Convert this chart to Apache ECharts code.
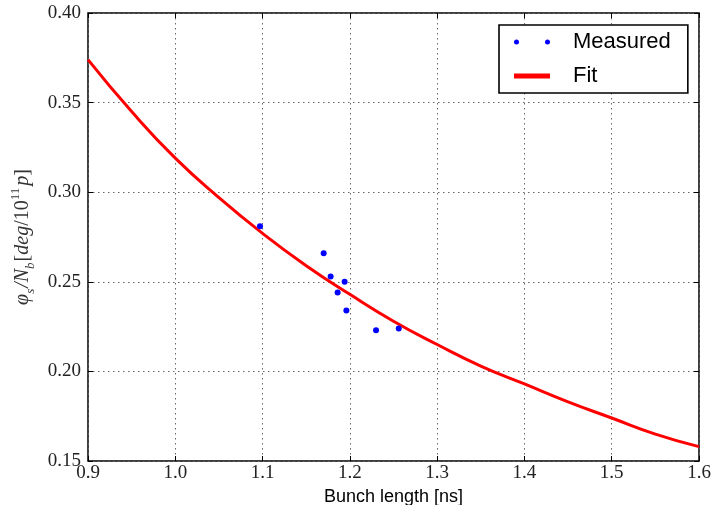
<!DOCTYPE html>
<html><head><meta charset="utf-8">
<script src="https://cdn.jsdelivr.net/npm/echarts@6/dist/echarts.min.js"></script>
<style>html,body{margin:0;padding:0;background:#fff}#c{width:711px;height:505px}</style>
</head><body><div id="c"></div>
<script>
// Measured data points
const measuredX = [1.097, 1.170, 1.178, 1.194, 1.186, 1.196, 1.230, 1.256];
const measuredY = [0.281, 0.266, 0.253, 0.250, 0.244, 0.234, 0.223, 0.224];
// Fit curve
const fitX = [0.90, 0.95, 1.00, 1.05, 1.10, 1.15, 1.20, 1.25, 1.30, 1.35, 1.40, 1.45, 1.50, 1.55, 1.60];
const fitY = [0.374, 0.345, 0.319, 0.297, 0.277, 0.259, 0.243, 0.228, 0.215, 0.203, 0.193, 0.183, 0.174, 0.165, 0.158];
const xTicks = [0.9, 1.0, 1.1, 1.2, 1.3, 1.4, 1.5, 1.6];
const yTicks = [0.15, 0.20, 0.25, 0.30, 0.35, 0.40];
const seriesNames = ['Measured', 'Fit'];
const xTitle = 'Bunch length [ns]';

const serif = 'Liberation Serif';
const sans = 'Liberation Sans';
const chart = echarts.init(document.getElementById('c'), null, {renderer: 'canvas'});
const grid = {left: 88, right: 12, top: 13, bottom: 44, outerBoundsMode: 'none', containLabel: false, show: true, borderColor: '#000', borderWidth: 1.5, backgroundColor: 'transparent'};
const tickStyle = {show: true, inside: true, length: 5, lineStyle: {color: '#000', width: 1}};
const splitStyle = {show: true, lineStyle: {color: '#666', type: [1.5, 3.5], width: 1}};
const labelStyle = {fontFamily: serif, fontSize: 19, color: '#222'};

chart.setOption({
  animation: false,
  grid: grid,
  legend: {
    left: 499, top: 25, orient: 'vertical',
    padding: [4, 17, 4, 15], itemGap: 8,
    itemWidth: 36, itemHeight: 5,
    borderColor: '#000', borderWidth: 1.6, backgroundColor: '#fff',
    textStyle: {fontFamily: sans, fontSize: 22, color: '#000', lineHeight: 26, padding: [0, 0, 0, 18]},
    data: [
      {name: seriesNames[0], icon: 'path://M0,2.5a2.5,2.5 0 1,0 5,0a2.5,2.5 0 1,0 -5,0M31,2.5a2.5,2.5 0 1,0 5,0a2.5,2.5 0 1,0 -5,0', itemStyle: {color: '#0000ff', opacity: 1}},
      {name: seriesNames[1], icon: 'rect', itemStyle: {color: '#ff0000'}}
    ]
  },
  xAxis: [{
    type: 'value', min: xTicks[0], max: xTicks[xTicks.length - 1], interval: 0.1,
    axisLine: {show: false}, axisTick: tickStyle, splitLine: splitStyle,
    axisLabel: Object.assign({margin: 3, formatter: v => v.toFixed(1), hideOverlap: false}, labelStyle),
    name: xTitle, nameLocation: 'middle', nameGap: 24,
    nameTextStyle: {fontFamily: sans, fontSize: 18, color: '#000'}
  }, {
    type: 'value', position: 'top', min: xTicks[0], max: xTicks[xTicks.length - 1], interval: 0.1,
    axisLine: {show: false}, axisTick: tickStyle, splitLine: {show: false}, axisLabel: {show: false}
  }],
  yAxis: [{
    type: 'value', min: yTicks[0], max: yTicks[yTicks.length - 1], interval: 0.05,
    axisLine: {show: false}, axisTick: tickStyle, splitLine: splitStyle,
    axisLabel: Object.assign({margin: 7, formatter: v => v.toFixed(2), hideOverlap: false}, labelStyle),
    name: '{i|φ}{sub|s}{i|/N}{sub|b}{r|[}{i|deg}{r|/10}{sup|11}{i|p}{r|]}',
    nameLocation: 'middle', nameGap: 46, nameRotate: 90,
    nameTextStyle: {
      color: '#333',
      rich: {
        i: {fontFamily: serif, fontStyle: 'italic', fontSize: 20, lineHeight: 28, verticalAlign: 'middle', color: '#333'},
        r: {fontFamily: serif, fontSize: 20, lineHeight: 28, verticalAlign: 'middle', color: '#333'},
        sub: {fontFamily: serif, fontStyle: 'italic', fontSize: 13, lineHeight: 28, verticalAlign: 'bottom', color: '#333', padding: [0, 1, 0, 0]},
        sup: {fontFamily: serif, fontSize: 13, lineHeight: 28, verticalAlign: 'top', color: '#333', padding: [0, 2, 0, 0]}
      }
    }
  }, {
    type: 'value', position: 'right', min: yTicks[0], max: yTicks[yTicks.length - 1], interval: 0.05,
    axisLine: {show: false}, axisTick: tickStyle, splitLine: {show: false}, axisLabel: {show: false}
  }],
  series: [
    {
      name: seriesNames[0], type: 'scatter', symbol: 'circle', symbolSize: 6,
      itemStyle: {color: '#0000ff', opacity: 1}, z: 3,
      data: measuredX.map((x, i) => [x, measuredY[i]])
    },
    {
      name: seriesNames[1], type: 'line', smooth: true, showSymbol: false, symbol: 'none',
      lineStyle: {color: '#ff0000', width: 3}, itemStyle: {color: '#ff0000'}, z: 2,
      data: fitX.map((x, i) => [x, fitY[i]])
    }
  ]
});
</script>
</body></html>
